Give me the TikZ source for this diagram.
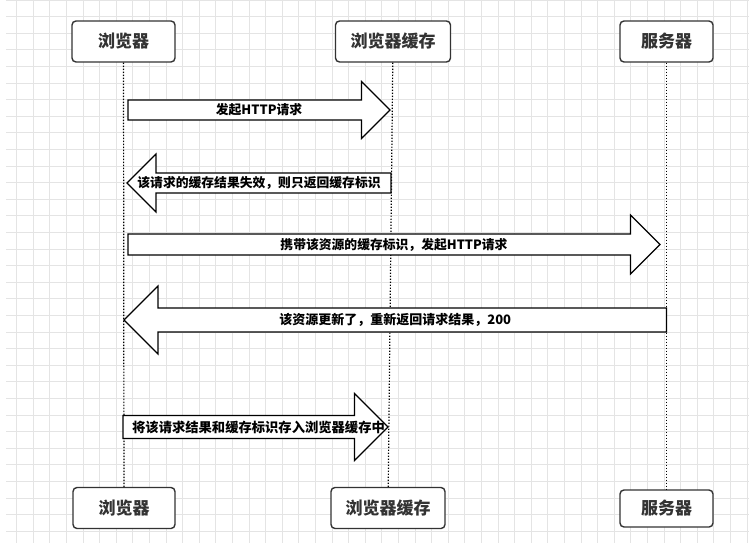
\documentclass[tikz,border=0pt]{standalone}
\usepackage{fontspec}
\newfontfamily\cjk{Noto Sans CJK SC}
\usetikzlibrary{calc}
\definecolor{boxgray}{RGB}{51,51,51}
\definecolor{gridgray}{RGB}{228,228,228}
\tikzset{
  rolebox/.style={draw=boxgray,line width=1.4pt,rounded corners=4pt,fill=white,minimum height=41pt,inner sep=0pt,text=boxgray,font=\cjk\bfseries\fontsize{17}{19}\selectfont},
  lifeline/.style={line width=1.2pt,dash pattern=on 1.3pt off 1.7pt},
  msgbody/.style={draw=black,line width=1.2pt,fill=white,line join=miter},
  msglabel/.style={inner sep=0pt,font=\cjk\bfseries\fontsize{12.8}{14}\selectfont}
}
% [label style] from node, shift, to node, shift, y, half shaft, half head, label
\newcommand\msgarrow[9][]{%
  \draw[msgbody] let \p1=([xshift=#3]#2.south), \p2=([xshift=#5]#4.south), \n1={ifthenelse(\x2>\x1,1,-1)*#8} in
    (\x1,#6-#7) -- (\x2-\n1,#6-#7) -- (\x2-\n1,#6-#8) -- (\x2,#6) -- (\x2-\n1,#6+#8) -- (\x2-\n1,#6+#7) -- (\x1,#6+#7) -- cycle
    ({(\x1+\x2)/2},#6) node[msglabel,#1] {#9};
}

\begin{document}
\begin{tikzpicture}[x=1pt,y=-1pt]
\useasboundingbox (0,0) rectangle (749,543);
\fill[white] (0,0) rectangle (749,543);
\draw[gridgray,line width=0.8pt,xstep=16.6pt,ystep=16.6pt] (6,0) grid (749,543);

% roles, top and bottom
\node[rolebox,minimum width=103pt] (browser) at (123.5,41.5) {浏览器};
\node[rolebox,minimum width=115pt] (cache) at (393,41.5) {浏览器缓存};
\node[rolebox,minimum width=93pt] (server) at (666.5,41.5) {服务器};
\node[rolebox,minimum width=102pt] (browserb) at (124,508) {浏览器};
\node[rolebox,minimum width=114pt] (cacheb) at (388,508) {浏览器缓存};
\node[rolebox,minimum width=93pt,minimum height=37pt] (serverb) at (666.5,508.5) {服务器};

\draw[lifeline] (browser) -- (browserb);
\draw[lifeline] (cache) -- (cacheb);
\draw[lifeline] (server) -- (serverb);

% messages
\msgarrow{browser}{4.5}{cache}{-3}{110}{10}{28.5}{发起HTTP请求}
\msgarrow{cache}{-2}{browser}{3.5}{183}{10}{29}{该请求的缓存结果失效，则只返回缓存标识}
\msgarrow{browser}{4.5}{server}{-6.5}{244.5}{10.5}{29.5}{携带该资源的缓存标识，发起HTTP请求}
\msgarrow[font=\cjk\bfseries\fontsize{13}{15}\selectfont]{server}{0}{browser}{0.5}{320}{12}{34}{该资源更新了，重新返回请求结果，200}
\msgarrow[font=\cjk\bfseries\fontsize{13.3}{15}\selectfont,xshift=3pt]{browser}{-0.5}{cache}{-5}{427}{11.5}{33.5}{将该请求结果和缓存标识存入浏览器缓存中}
\end{tikzpicture}
\end{document}
